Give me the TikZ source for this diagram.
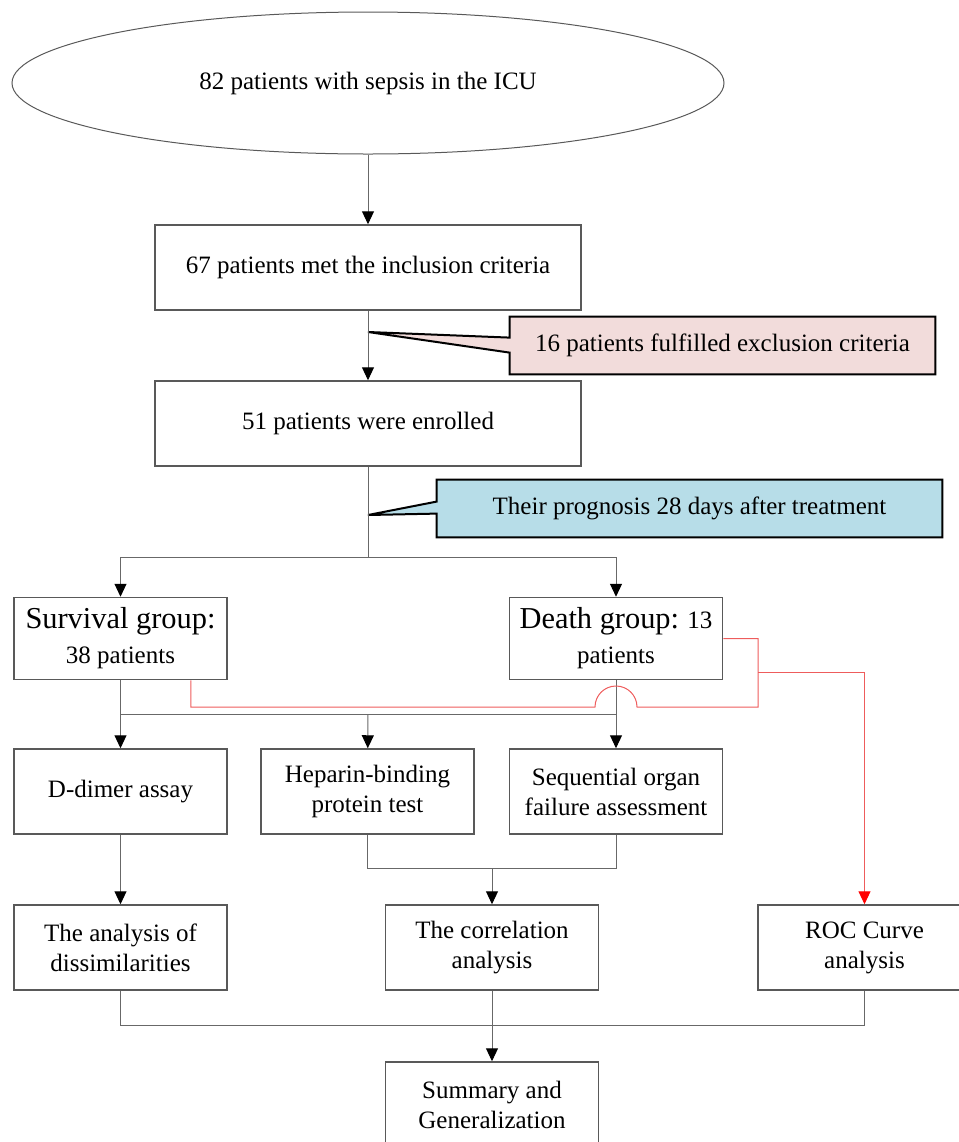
\documentclass[tikz,border=0pt]{standalone}
\usepackage{fontspec}
\setmainfont{Liberation Serif}
\usetikzlibrary{shapes.geometric, arrows.meta, calc, backgrounds}

\definecolor{boxgray}{HTML}{595959}
\definecolor{linegray}{HTML}{686868}
\definecolor{exclpink}{HTML}{F2DCDB}
\definecolor{progblue}{HTML}{B7DDE8}
\definecolor{rocred}{HTML}{EE5C5C}

\begin{document}
\begin{tikzpicture}[x=0.5pt, y=-0.5pt,
  every node/.style={font=\fontsize{12.5}{15}\selectfont, align=center},
  box/.style={draw=boxgray, line width=0.75pt, minimum width=106.5pt, minimum height=42.5pt, inner sep=0pt},
  widebox/.style={box, minimum width=213pt},
  note/.style={minimum height=28.5pt, inner sep=0pt},
  noteline/.style={draw=black, line width=1pt, line join=miter},
  conn/.style={draw=linegray, line width=0.5pt},
  arr/.style={conn, -{Triangle[length=6.5pt, width=6pt, color=black]}},
  redconn/.style={draw=rocred, line width=0.5pt},
  redarr/.style={redconn, -{Triangle[length=6.5pt, width=6pt, color=red]}}]
\useasboundingbox (0,0) rectangle (959,1142);
\clip (0,0) rectangle (959,1142);

% top part
\node[ellipse, draw=boxgray, line width=0.5pt, minimum width=356pt, minimum height=71pt, inner sep=0pt] (sepsis) at (368,83) {82 patients with sepsis in the ICU};
\node[widebox] (incl) at (368,267.5) {67 patients met the inclusion criteria};
\node[widebox] (enrol) at (368,423.5) {51 patients were enrolled};

% callouts
\node[note, minimum width=212.5pt] (excl) at (722.5,345.5) {16 patients fulfilled exclusion criteria};
\node[note, minimum width=252.5pt] (prog) at (689.5,508.5) {Their prognosis 28 days after treatment};
\coordinate (excltip) at (368,332);
\coordinate (progtip) at (368,515);
\begin{scope}[on background layer]
\draw[noteline, fill=exclpink] (excl.north west) -- (excl.north east) -- (excl.south east) -- (excl.south west)
  -- ($(excl.north west)+(0,36)$) -- (excltip) -- ($(excl.north west)+(0,21)$) -- cycle;
\draw[noteline, fill=progblue] (prog.north west) -- (prog.north east) -- (prog.south east) -- (prog.south west)
  -- ($(prog.north west)+(0,34)$) -- (progtip) -- ($(prog.north west)+(0,22)$) -- cycle;
\end{scope}

% groups
\node[box, minimum height=41pt] (surv) at (120.5,638.5) {{\fontsize{15.2}{17.5}\selectfont Survival group:}\\[2.5pt]38 patients};
\node[box, minimum height=41pt] (death) at (616,638.5) {{\fontsize{15.2}{17.5}\selectfont Death group:} 13\\[2.5pt]patients};

% tests
\node[box] (dimer) at (120.5,791.5) {D-dimer assay};
\node[box] (hbp) at (367.5,791.5) {Heparin-binding\\protein test};
\node[box] (sofa) at (616,791.5) {Sequential organ\\failure assessment};

% analyses
\node[box] (diss) at (120.5,947.5) {The analysis of\\dissimilarities};
\node[box] (corr) at (492,947.5) {The correlation\\analysis};
\node[box] (roc) at (864.5,947.5) {ROC Curve\\analysis};
\node[box] (summ) at (492,1104.5) {Summary and\\Generalization};

\coordinate (split1) at (368,557);
\coordinate (split2) at (368,714);
\coordinate (split3) at (492,868);
\coordinate (split4) at (492,1025);
\coordinate (redbend) at (758,707);
\coordinate (redjoin) at (758,672);

% connectors
\draw[arr] (sepsis) -- (incl);
\draw[arr] (incl) -- (enrol);
\draw[conn] (enrol) -- (split1);
\draw[arr] (split1) -| (surv);
\draw[arr] (split1) -| (death);
\draw[conn] (surv.south |- split2) -- (death.south |- split2);
\draw[arr] (surv) -- (dimer);
\draw[arr] (death) -- (sofa);
\draw[arr] (split2) -- (hbp);
\draw[conn] (hbp) |- (split3) -| (sofa);
\draw[arr] (split3) -- (corr);
\draw[arr] (dimer) -- (diss);
\draw[conn] (diss) |- (split4) -| (roc);
\draw[arr] (corr) -- (summ);

% red path to ROC
\draw[redconn] ($(surv.south east)+(-37,0)$) |- ($(death.south |- redbend)+(-21,0)$)
  arc[start angle=180, end angle=0, radius=10.5pt] -- (redbend) |- (death.east);
\draw[redarr] (redjoin) -| (roc);
\end{tikzpicture}
\end{document}
